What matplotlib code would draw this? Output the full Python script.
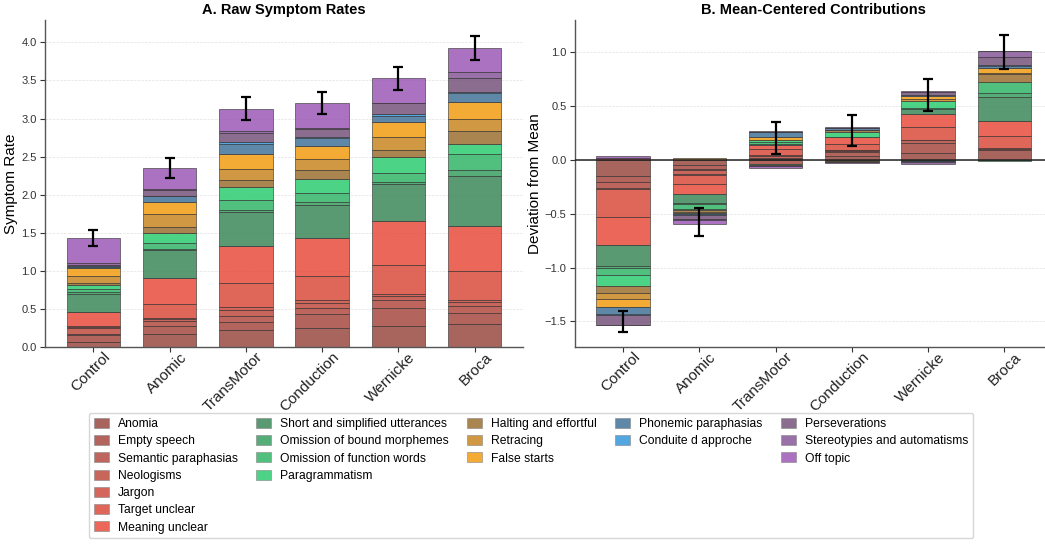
import numpy as np
import matplotlib
matplotlib.use("Agg")
import matplotlib.pyplot as plt
import matplotlib.transforms as mtransforms
from matplotlib.patches import Patch

plt.rcParams['font.family'] = ['Liberation Sans', 'DejaVu Sans']

groups = ['Control', 'Anomic', 'TransMotor', 'Conduction', 'Wernicke', 'Broca']
symptoms = ['Anomia', 'Empty speech', 'Semantic paraphasias', 'Neologisms', 'Jargon',
            'Target unclear', 'Meaning unclear',
            'Short and simplified utterances', 'Omission of bound morphemes',
            'Omission of function words', 'Paragrammatism',
            'Halting and effortful', 'Retracing', 'False starts',
            'Phonemic paraphasias', 'Conduite d approche',
            'Perseverations', 'Stereotypies and automatisms', 'Off topic']
family_sizes = [7, 4, 3, 2, 3]

control = [.066, .096, .013, .079, .01, .01, .186, .24, .02, .045, .045,
           .03, .09, .105, .02, .005, .02, .02, .33]
anomic = [.175, .10, .065, .025, .015, .18, .35, .36, .02, .07, .14,
          .08, .16, .165, .075, .005, .075, .01, .28]
transmotor = [.228, .105, .077, .08, .035, .32, .48, .45, .025, .135, .165,
              .09, .15, .20, .13, .02, .12, .02, .30]
conduction = [.254, .184, .079, .066, .03, .32, .504, .43, .04, .11, .195,
              .11, .14, .18, .10, .01, .11, .02, .32]
wernicke = [.28, .237, .096, .057, .03, .38, .57, .49, .03, .12, .21,
            .09, .17, .20, .075, .025, .14, .01, .32]
broca = [.307, .144, .083, .056, .03, .374, .592, .661, .073, .21, .14,
         .17, .16, .22, .11, .02, .185, .075, .32]
errors = [0.10, 0.13, 0.15, 0.145, 0.15, 0.16]

colors = ['#994a42', '#a64a41', '#b34b40', '#c04b3f', '#cd4b3e', '#da4c3d', '#e74c3c',
          '#3d8859', '#389f61', '#33b569', '#2ecc71',
          '#9c7031', '#c88622', '#f39c12',
          '#437299', '#3498db',
          '#76547c', '#895799', '#9b59b6']

data = np.array([control, anomic, transmotor, conduction, wernicke, broca])  # groups x symptoms
x = np.arange(len(groups))
w = 0.7
alpha = 0.85
ec = '#333333'
lw = 0.5

fig = plt.figure(figsize=(10.45, 5.46), dpi=100)
ax1 = fig.add_axes([0.043, 0.3645, 0.4575, 0.599])
ax2 = fig.add_axes([0.550, 0.3645, 0.4575, 0.599])

# A: raw stacked
bottom = np.zeros(len(groups))
for j, s in enumerate(symptoms):
    ax1.bar(x, data[:, j], w, bottom=bottom, color=colors[j], alpha=alpha,
            edgecolor=ec, linewidth=lw, label=s)
    bottom += data[:, j]
ax1.errorbar(x, bottom, yerr=errors, fmt='none', ecolor='black', elinewidth=1.6,
             capsize=3.5, capthick=1.6, zorder=5)
ax1.set_title('A. Raw Symptom Rates', fontsize=10.5, fontweight='bold', pad=4)
ax1.set_ylabel('Symptom Rate', fontsize=11, labelpad=2)

# B: mean-centered
dev = data - data.mean(axis=0)
pos = np.zeros(len(groups))
neg = np.zeros(len(groups))
for j, s in enumerate(symptoms):
    d = dev[:, j]
    b = np.where(d >= 0, pos, neg)
    ax2.bar(x, d, w, bottom=b, color=colors[j], alpha=alpha,
            edgecolor=ec, linewidth=lw)
    pos += np.where(d >= 0, d, 0)
    neg += np.where(d < 0, d, 0)
net = dev.sum(axis=1)
ax2.axhline(0, color='#222222', linewidth=1.1, zorder=4)
ax2.errorbar(x, net, yerr=errors, fmt='none', ecolor='black', elinewidth=1.6,
             capsize=3.5, capthick=1.6, zorder=5)
ax2.set_title('B. Mean-Centered Contributions', fontsize=10.5, fontweight='bold', pad=4)
ax2.set_ylabel('Deviation from Mean', fontsize=11, labelpad=2)

shift = mtransforms.ScaledTranslation(0.10, -0.03, fig.dpi_scale_trans)
for ax in (ax1, ax2):
    ax.set_xticks(x)
    ax.set_xticklabels([''] * len(groups))
    for xi, g in zip(x, groups):
        ax.text(xi, 0, g, transform=ax.get_xaxis_transform() + shift, rotation=45,
                ha='right', va='top', rotation_mode='anchor', fontsize=11, color='#222222')
    ax.tick_params(axis='y', labelsize=8, colors='#333333', length=3.5, pad=2.5)
    ax.tick_params(axis='x', colors='#333333', length=3.5)
    ax.spines['top'].set_visible(False)
    ax.spines['right'].set_visible(False)
    for sp in ('left', 'bottom'):
        ax.spines[sp].set_color('#555555')
        ax.spines[sp].set_linewidth(1.0)
    ax.yaxis.grid(True, color='#e2e2e2', linestyle='--', linewidth=0.5)
    ax.set_axisbelow(True)

# legend: one column per family, padded with blanks
handles, labels = [], []
k = 0
for n in family_sizes:
    for i in range(7):
        if i < n:
            handles.append(Patch(facecolor=colors[k], alpha=alpha, edgecolor='#888888', linewidth=0.5))
            labels.append(symptoms[k])
            k += 1
        else:
            handles.append(Patch(facecolor='none', edgecolor='none'))
            labels.append('')
fig.legend(handles, labels, loc='upper center', bbox_to_anchor=(0.508, 0.2436), ncol=5,
           fontsize=8.7, frameon=True, edgecolor='#cccccc', labelspacing=0.42,
           columnspacing=1.5, handlelength=1.25, handleheight=0.9, handletextpad=0.75,
           borderaxespad=0)

fig.savefig('out.png', dpi=100)
